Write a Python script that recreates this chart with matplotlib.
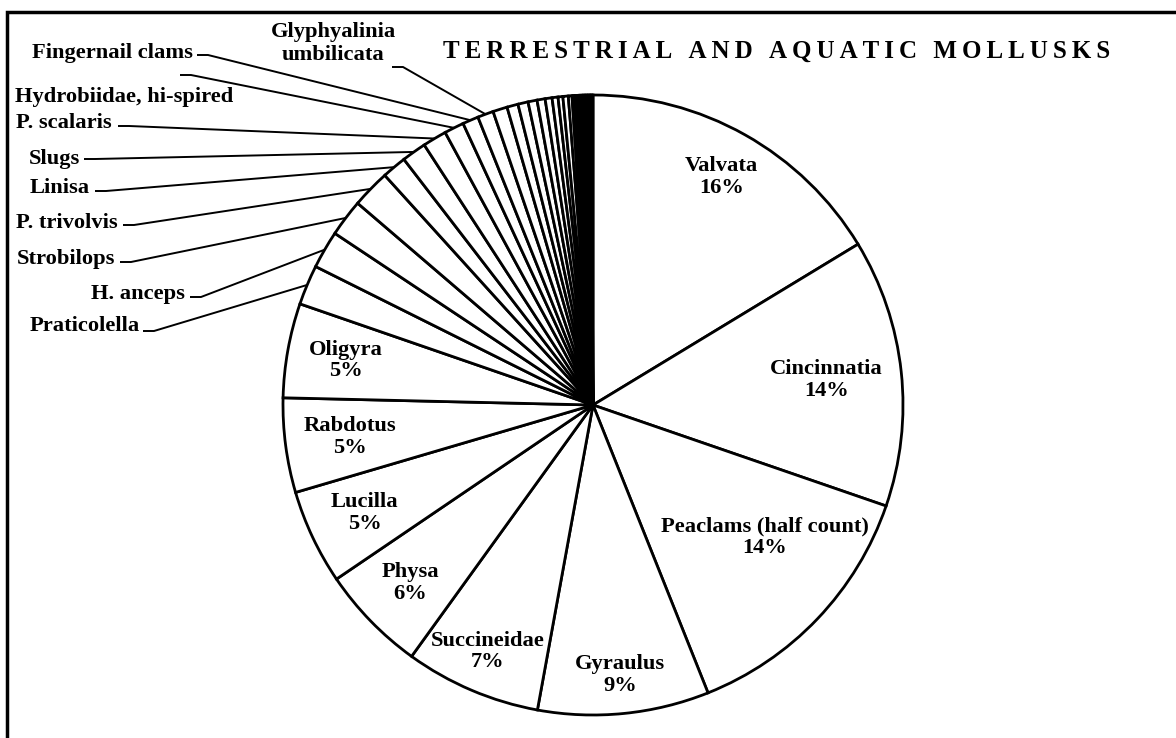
import numpy as np
import matplotlib.pyplot as plt
from matplotlib.patches import Rectangle

# 画像サイズ (px)
W, H = 1176, 738

title = "TERRESTRIAL AND AQUATIC MOLLUSKS"

# 大きい扇形 (中にラベル)
big_names = ["Valvata", "Cincinnatia", "Peaclams (half count)", "Gyraulus",
             "Succineidae", "Physa", "Lucilla", "Rabdotus", "Oligyra"]
big_values = [16.32, 13.96, 13.67, 8.92, 7.08, 5.56, 4.94, 4.92, 4.92]

# 小さい扇形 (外に引き出し線ラベル)
small_names = ["Praticolella", "H. anceps", "Strobilops", "P. trivolvis", "Linisa",
               "Slugs", "P. scalaris", "Hydrobiidae, hi-spired", "Fingernail clams",
               "Glyphyalinia\numbilicata"]
small_values = [2.08, 1.97, 1.94, 2.00, 1.28, 1.28, 1.25, 1.03, 0.83, 0.83]

# ラベル無しの細い扇形
other_values = [0.75, 0.58, 0.53, 0.47, 0.42, 0.36, 0.31, 0.25, 0.28, 0.19]
rare_values = [0.09, 0.08, 0.09, 0.08, 0.08, 0.09, 0.08, 0.08, 0.08, 0.09, 0.08, 0.08, 0.08]


def main():
    plt.rcParams['font.family'] = ['Liberation Serif', 'DejaVu Serif']
    plt.rcParams['font.weight'] = 'bold'

    values = big_values + small_values + other_values + rare_values
    total = sum(values)

    fig = plt.figure(figsize=(W / 100, H / 100), dpi=100)
    ax = fig.add_axes([0, 0, 1, 1])

    # 円の中心と半径 (px, 上からの座標 -> 下から)
    cx, cy = 593, H - 405
    R = 310

    wedges, _ = ax.pie(values, startangle=90, counterclock=False,
                       center=(cx, cy), radius=R, frame=True,
                       wedgeprops=dict(facecolor='white', edgecolor='black', linewidth=2.0))

    # ===== 中のラベル =====
    label_r = [0.844, 0.758, 0.70, 0.876, 0.865, 0.823, 0.815, 0.792, 0.811]
    label_dang = [0, 0, 6, 0, 0, 0, 0, 0, 0]
    for w, name, v, rr, da in zip(wedges[:9], big_names, big_values, label_r, label_dang):
        mid = np.radians((w.theta1 + w.theta2) / 2 + da)
        x = cx + rr * R * np.cos(mid)
        y = cy + rr * R * np.sin(mid)
        ax.text(x, y, f"{name}\n{v / total * 100:.0f}%", ha='center', va='center',
                fontsize=16.2, fontweight='bold', linespacing=1.1)

    # ===== 外のラベル + 引き出し線 =====
    # (text x, baseline y, ha), (leader start x, y)  -- 上からの px
    ext_text = [(140, 331, 'right'), (185, 299, 'right'), (115, 264, 'right'),
                (118, 228, 'right'), (90, 193, 'right'), (80, 164, 'right'),
                (112, 128, 'right'), (233, 102, 'right'), (193, 58, 'right'),
                (333, 37, 'center')]
    ext_lead = [(143, 331), (190, 297), (120, 262), (123, 225), (95, 191),
                (84, 159), (118, 126), (180, 75), (197, 55), (392, 67)]

    for w, name, (tx, ty, ha), (lx, ly) in zip(wedges[9:19], small_names, ext_text, ext_lead):
        mid = np.radians((w.theta1 + w.theta2) / 2)
        ex = cx + R * np.cos(mid)
        ey = cy + R * np.sin(mid)
        ax.plot([lx, lx + 11, ex], [H - ly, H - ly, ey], color='black', lw=1.4,
                solid_capstyle='butt')
        for k, line in enumerate(name.split('\n')):
            ax.text(tx, H - (ty + 23 * k), line, ha=ha, va='baseline',
                    fontsize=16.2, fontweight='bold')

    # タイトル (字間を広げる)
    ax.text(443, H - 58, "\u2009".join(title), ha='left', va='baseline',
            fontsize=18, fontweight='bold')

    # 外枠
    ax.add_patch(Rectangle((7, -20), W + 100, H - 11.5 + 20, fill=False,
                           edgecolor='black', lw=2.5))

    ax.set_xlim(0, W)
    ax.set_ylim(0, H)
    ax.set_aspect('auto')
    ax.axis('off')

    fig.savefig('out.png', dpi=100, facecolor='white')


if __name__ == "__main__":
    main()
